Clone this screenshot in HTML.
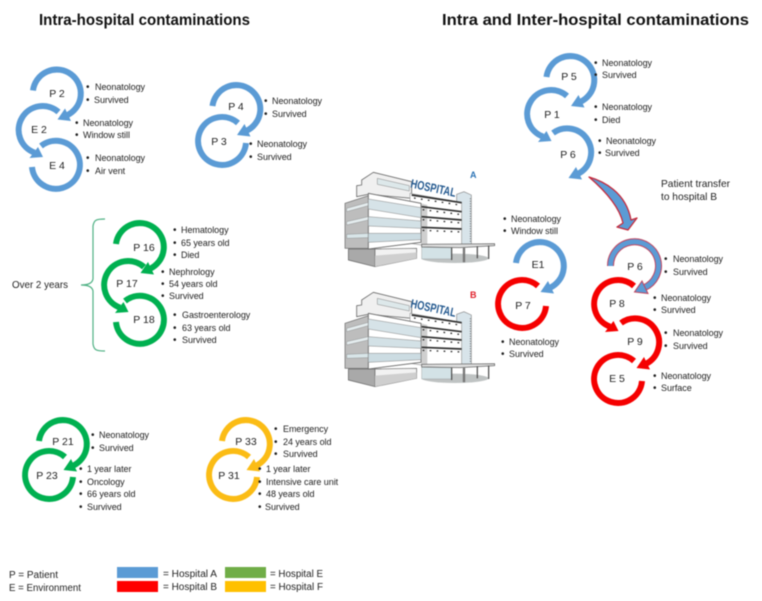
<!DOCTYPE html>
<html><head><meta charset="utf-8"><style>
html,body{margin:0;padding:0;background:#fff;width:762px;height:601px;overflow:hidden}
svg{display:block;filter:blur(.4px)}
text{font-family:"Liberation Sans",sans-serif;fill:#222}
.t{font-size:9px;letter-spacing:-.05px}
.b{font-size:10px}
.l{font-size:10.5px;text-anchor:middle}
.o{font-size:10.5px}
.h{font-size:16px;font-weight:bold;fill:#111}
.arc{fill:none;stroke-width:6}
</style></head><body>
<svg width="762" height="601" viewBox="0 0 762 601" xmlns="http://www.w3.org/2000/svg">
<defs>
<g id="A"><path class="arc" d="M-24,-3A24,24 0 1 1 10,21.8"/><polygon points="8,15 14,27.5 0.5,26" stroke="none"/></g>
<g id="A2"><path class="arc" d="M-15,-19A24,24 0 1 1 10,21.8"/><polygon points="8,15 14,27.5 0.5,26" stroke="none"/></g>
<g id="B"><path class="arc" d="M16,-18A24,24 0 1 0 -8,22.6"/><polygon points="-4.5,17 -13,28 0.5,27" stroke="none"/></g>
<g id="C"><path class="arc" d="M-15,-19A24,24 0 1 1 -24,2"/></g>
<g id="D"><path class="arc" d="M16,-18A24,24 0 1 0 24,2"/></g>
<g id="hosp" transform="scale(.3333)" stroke-linejoin="round">
<ellipse cx="345" cy="280" rx="100" ry="14" fill="#bfc3c3"/>
<polygon points="65,45 100,22 215,50 215,100 85,88 50,95 50,62 65,60" fill="#f0f0f0" stroke="#6b6b6b" stroke-width="2.5"/>
<polygon points="112,40 208,62 208,78 112,58" fill="#dde8ea" stroke="#888" stroke-width="1.5"/>
<polygon points="350,88 372,80 394,90 394,238 350,240" fill="#d8e4ea" stroke="#888" stroke-width="2"/>
<line x1="391" y1="100" x2="391" y2="232" stroke="#333" stroke-width="2.5" stroke-dasharray="2.5 5"/>
<polygon points="210,85 365,112 365,238 245,240 210,235" fill="#fff" stroke="#999" stroke-width="2"/>
<polygon points="243,115 262,120 262,240 243,240" fill="#cfcfcf"/>
<g stroke="#2e2e2e" stroke-width="5" fill="none">
<path d="M215,90L365,113"/><path d="M245,125L365,140"/><path d="M245,155L365,165"/><path d="M245,187L365,192"/>
</g>
<g stroke="#2e2e2e" stroke-width="4" stroke-dasharray="5 16">
<path d="M222,99L365,121"/><path d="M248,134L365,149"/><path d="M248,164L365,174"/><path d="M248,196L365,201"/>
</g>
<polygon points="15,115 85,92 85,250 15,250" fill="#bdbdbd" stroke="#666" stroke-width="2"/>
<polygon points="20,130 85,112 85,122 20,140" fill="#e4ecee" stroke="#777" stroke-width="1"/>
<polygon points="20,170 85,155 85,165 20,180" fill="#e4ecee" stroke="#777" stroke-width="1"/>
<polygon points="20,208 85,205 85,218 20,220" fill="#d8e5e8" stroke="#777" stroke-width="1"/>
<polygon points="85,85 243,115 243,232 85,252" fill="#fff" stroke="#666" stroke-width="2.5"/>
<polygon points="85,102 243,128 243,158 85,132" fill="#d6e3e8" stroke="#888" stroke-width="1.5"/>
<polygon points="85,155 243,168 243,190 85,183" fill="#d3e1e6" stroke="#888" stroke-width="1.5"/>
<polygon points="85,205 243,205 243,224 85,232" fill="#ccdce2" stroke="#888" stroke-width="1.5"/>
<polygon points="25,252 105,252 105,305 25,285" fill="#a9a9a9" stroke="#666" stroke-width="2"/>
<polygon points="105,252 230,250 230,280 105,305" fill="#f2f2f2" stroke="#666" stroke-width="2"/>
<polygon points="105,272 230,262 230,280 105,305" fill="#cfcfcf"/>
<polygon points="245,240 335,245 335,282 245,282" fill="#d3e2e6" stroke="#888" stroke-width="1"/>
<polygon points="245,238 464,236 464,242 360,248 245,246" fill="#dcdcdc" stroke="#555" stroke-width="2"/>
<g stroke="#444" stroke-width="3.5"><path d="M335,248V285"/><path d="M372,248V292" stroke-width="7" stroke="#777"/><path d="M412,244V280"/><path d="M446,242V282"/></g>
<text x="210" y="67" transform="rotate(12 210 67)" textLength="138" lengthAdjust="spacingAndGlyphs" style="font-size:37px;font-weight:bold;fill:#24598f">HOSPITAL</text>
</g>
</defs>

<text class="h" x="39" y="25" textLength="211" lengthAdjust="spacingAndGlyphs">Intra-hospital contaminations</text>
<text class="h" x="442" y="25" textLength="307" lengthAdjust="spacingAndGlyphs">Intra and Inter-hospital contaminations</text>

<!-- Blue -->
<g fill="#5b9bd5" stroke="#5b9bd5">
<use href="#A" transform="translate(57,93.5)"/>
<use href="#B" transform="translate(42.5,130)"/>
<use href="#C" transform="translate(56,165)"/>
<use href="#A" transform="translate(236.5,109)"/>
<use href="#D" transform="translate(222,141)"/>
<use href="#A" transform="translate(570.5,80)"/>
<use href="#B" transform="translate(551,114)"/>
<use href="#A2" transform="translate(568,152)"/>
<use href="#A" transform="translate(540,266)"/>
</g>
<!-- Green -->
<g fill="#00b050" stroke="#00b050">
<use href="#A" transform="translate(140,247)"/>
<use href="#B" transform="translate(128,285)"/>
<use href="#C" transform="translate(140,320)"/>
<use href="#A" transform="translate(63,444)"/>
<use href="#D" transform="translate(49,475)"/>
</g>
<!-- Yellow -->
<g fill="#fbbc15" stroke="#fbbc15">
<use href="#A" transform="translate(246,444)"/>
<use href="#D" transform="translate(233,475)"/>
</g>
<!-- Red -->
<g fill="#f50000" stroke="#f50000">
<use href="#D" transform="translate(522,304)"/>
<use href="#B" transform="translate(618,304)"/>
<use href="#A2" transform="translate(636,342)"/>
<use href="#D" transform="translate(618,379)"/>
</g>
<!-- P6 in hospital B -->
<path d="M610.5,266A24,24 0 1 1 644,287.8" fill="none" stroke="#c0455f" stroke-width="7"/>
<path d="M610.5,266A24,24 0 1 1 644,287.8" fill="none" stroke="#5b9bd5" stroke-width="5"/>
<polygon points="642,281 648,293.5 634.5,292" fill="#5b9bd5" stroke="#c0455f" stroke-width="1"/>

<!-- Transfer arrow -->
<path d="M589,177C603,181 626,192 631,220L637,218L628,230L617,227L623,223C620,210 610,195 589,177Z" fill="#5b9bd5" stroke="#c62a3c" stroke-width="1.3" stroke-linejoin="round"/>

<!-- Bracket -->
<path d="M105,219C96,219 94,220 93,226L93,279Q92,285 81,285Q92,285 93,291L93,344C94,350 96,351 105,351" fill="none" stroke="#4fb184" stroke-width="1.2"/>

<!-- Node labels -->
<text class="l" x="57" y="97">P 2</text>
<text class="l" x="39" y="133">E 2</text>
<text class="l" x="57" y="169">E 4</text>
<text class="l" x="236" y="110">P 4</text>
<text class="l" x="219" y="145">P 3</text>
<text class="l" x="144" y="251">P 16</text>
<text class="l" x="127" y="287">P 17</text>
<text class="l" x="144" y="323">P 18</text>
<text class="l" x="63" y="445">P 21</text>
<text class="l" x="47" y="479">P 23</text>
<text class="l" x="246" y="445">P 33</text>
<text class="l" x="229" y="479">P 31</text>
<text class="l" x="569" y="80">P 5</text>
<text class="l" x="552" y="118">P 1</text>
<text class="l" x="568" y="158">P 6</text>
<text class="l" x="538" y="268">E1</text>
<text class="l" x="523" y="309">P 7</text>
<text class="l" x="635" y="270">P 6</text>
<text class="l" x="617" y="307">P 8</text>
<text class="l" x="635" y="345">P 9</text>
<text class="l" x="617" y="382">E 5</text>

<!-- Descriptions -->
<g>
<text class="b" x="86" y="90">•</text><text class="t" x="95" y="90">Neonatology</text>
<text class="b" x="86" y="103">•</text><text class="t" x="94" y="103">Survived</text>
<text class="b" x="75" y="126">•</text><text class="t" x="83" y="126">Neonatology</text>
<text class="b" x="75" y="138">•</text><text class="t" x="83" y="138">Window still</text>
<text class="b" x="86" y="161">•</text><text class="t" x="95" y="161">Neonatology</text>
<text class="b" x="86" y="174">•</text><text class="t" x="95" y="174">Air vent</text>
<text class="b" x="264" y="104">•</text><text class="t" x="272" y="104">Neonatology</text>
<text class="b" x="264" y="117">•</text><text class="t" x="272" y="117">Survived</text>
<text class="b" x="249" y="147">•</text><text class="t" x="257" y="147">Neonatology</text>
<text class="b" x="249" y="160">•</text><text class="t" x="257" y="160">Survived</text>
<text class="b" x="173" y="233">•</text><text class="t" x="181" y="233">Hematology</text>
<text class="b" x="173" y="246">•</text><text class="t" x="181" y="246">65 years old</text>
<text class="b" x="173" y="258">•</text><text class="t" x="181" y="258">Died</text>
<text class="b" x="161" y="275">•</text><text class="t" x="169" y="275">Nephrology</text>
<text class="b" x="161" y="287">•</text><text class="t" x="169" y="287">54 years old</text>
<text class="b" x="161" y="299">•</text><text class="t" x="169" y="299">Survived</text>
<text class="b" x="173" y="318">•</text><text class="t" x="182" y="318">Gastroenterology</text>
<text class="b" x="173" y="331">•</text><text class="t" x="182" y="331">63 years old</text>
<text class="b" x="173" y="343">•</text><text class="t" x="182" y="343">Survived</text>
<text class="b" x="91" y="438">•</text><text class="t" x="99" y="438">Neonatology</text>
<text class="b" x="91" y="451">•</text><text class="t" x="99" y="451">Survived</text>
<text class="b" x="79" y="472">•</text><text class="t" x="87" y="472">1 year later</text>
<text class="b" x="79" y="485">•</text><text class="t" x="87" y="485">Oncology</text>
<text class="b" x="79" y="497">•</text><text class="t" x="87" y="497">66 years old</text>
<text class="b" x="79" y="510">•</text><text class="t" x="87" y="510">Survived</text>
<text class="b" x="274" y="432">•</text><text class="t" x="283" y="432">Emergency</text>
<text class="b" x="274" y="445">•</text><text class="t" x="283" y="445">24 years old</text>
<text class="b" x="274" y="457">•</text><text class="t" x="283" y="457">Survived</text>
<text class="b" x="258" y="472">•</text><text class="t" x="266" y="472">1 year later</text>
<text class="b" x="258" y="485">•</text><text class="t" x="266" y="485">Intensive care unit</text>
<text class="b" x="258" y="497">•</text><text class="t" x="266" y="497">48 years old</text>
<text class="b" x="258" y="510">•</text><text class="t" x="265" y="510">Survived</text>
<text class="b" x="594" y="66">•</text><text class="t" x="602" y="66">Neonatology</text>
<text class="b" x="594" y="78">•</text><text class="t" x="602" y="78">Survived</text>
<text class="b" x="594" y="110">•</text><text class="t" x="602" y="110">Neonatology</text>
<text class="b" x="594" y="123">•</text><text class="t" x="602" y="123">Died</text>
<text class="b" x="598" y="144">•</text><text class="t" x="606" y="144">Neonatology</text>
<text class="b" x="598" y="156">•</text><text class="t" x="605" y="156">Survived</text>
<text class="b" x="503" y="222">•</text><text class="t" x="511" y="222">Neonatology</text>
<text class="b" x="503" y="234">•</text><text class="t" x="511" y="234">Window still</text>
<text class="b" x="501" y="345">•</text><text class="t" x="509" y="345">Neonatology</text>
<text class="b" x="501" y="357">•</text><text class="t" x="509" y="357">Survived</text>
<text class="b" x="664" y="262">•</text><text class="t" x="673" y="262">Neonatology</text>
<text class="b" x="664" y="275">•</text><text class="t" x="673" y="275">Survived</text>
<text class="b" x="653" y="301">•</text><text class="t" x="661" y="301">Neonatology</text>
<text class="b" x="653" y="313">•</text><text class="t" x="661" y="313">Survived</text>
<text class="b" x="664" y="336">•</text><text class="t" x="673" y="336">Neonatology</text>
<text class="b" x="664" y="349">•</text><text class="t" x="673" y="349">Survived</text>
<text class="b" x="653" y="379">•</text><text class="t" x="661" y="379">Neonatology</text>
<text class="b" x="653" y="391">•</text><text class="t" x="661" y="391">Surface</text>
</g>

<text class="o" x="12" y="288" textLength="56" lengthAdjust="spacingAndGlyphs">Over 2 years</text>
<text class="o" x="661" y="187" textLength="69" lengthAdjust="spacingAndGlyphs">Patient transfer</text>
<text class="o" x="661" y="200" textLength="56" lengthAdjust="spacingAndGlyphs">to hospital B</text>

<!-- Hospitals -->
<use href="#hosp" transform="translate(340,165)"/>
<use href="#hosp" transform="translate(340,285)"/>
<text x="470" y="178" style="font-size:9px;font-weight:bold;fill:#2e75b6">A</text>
<text x="470" y="298" style="font-size:9px;font-weight:bold;fill:#e0202a">B</text>

<!-- Legend -->
<text class="o" x="9" y="578" style="font-size:10px">P = Patient</text>
<text class="o" x="9" y="591" style="font-size:10px" textLength="72" lengthAdjust="spacingAndGlyphs">E = Environment</text>
<rect x="117" y="567" width="41" height="11" fill="#5b9bd5"/>
<rect x="117" y="581" width="41" height="11" fill="#ff0000"/>
<rect x="225" y="567" width="41" height="11" fill="#70ad47"/>
<rect x="225" y="581" width="41" height="11" fill="#ffc000"/>
<text class="o" x="163" y="577" style="font-size:10px" textLength="54" lengthAdjust="spacingAndGlyphs">= Hospital A</text>
<text class="o" x="163" y="590" style="font-size:10px" textLength="54" lengthAdjust="spacingAndGlyphs">= Hospital B</text>
<text class="o" x="270" y="577" style="font-size:10px" textLength="53" lengthAdjust="spacingAndGlyphs">= Hospital E</text>
<text class="o" x="270" y="590" style="font-size:10px" textLength="53" lengthAdjust="spacingAndGlyphs">= Hospital F</text>
</svg>
</body></html>
